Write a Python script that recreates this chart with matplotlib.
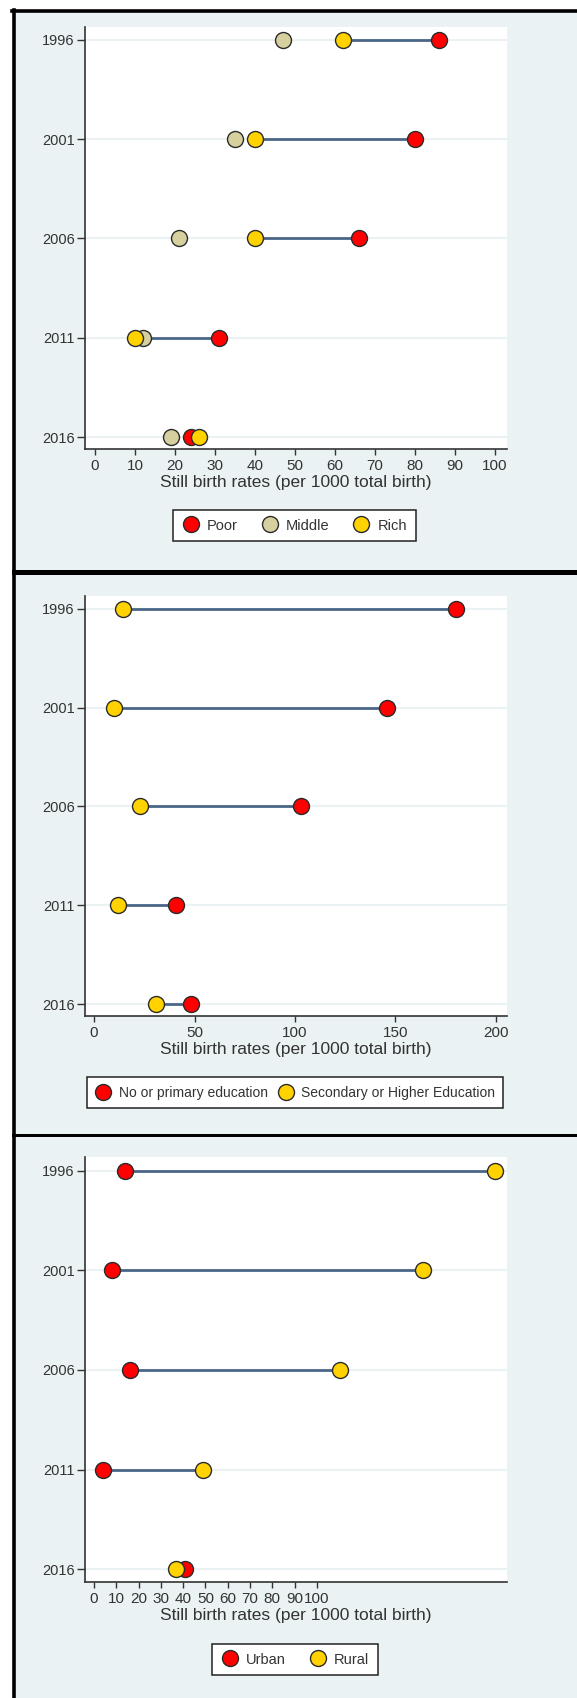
import matplotlib
matplotlib.use("Agg")
import matplotlib.pyplot as plt
from matplotlib.patches import Rectangle

plt.rcParams['font.family'] = ['Liberation Sans', 'DejaVu Sans']

years = ["1996", "2001", "2006", "2011", "2016"]

# panel 1: wealth
poor = [86, 80, 66, 31, 24]
middle = [47, 35, 21, 12, 19]
rich = [62, 40, 40, 10, 26]

# panel 2: education
no_primary = [180, 146, 103, 41, 48]
secondary = [14.5, 10, 23, 12, 31]

# panel 3: residence
urban = [14, 8, 16, 4, 41]
rural = [180, 147.5, 110.5, 49, 37]

RED = "#ff0000"
KHAKI = "#d6d09e"
GOLD = "#ffd200"
LINE = "#4a6688"
BG = "#eaf2f3"
W, H = 577, 1698

fig = plt.figure(figsize=(W / 100, H / 100), dpi=100)
fig.patch.set_facecolor("white")

# background drawn in pixel coordinates
bg = fig.add_axes([0, 0, 1, 1])
bg.set_xlim(0, W)
bg.set_ylim(H, 0)
bg.axis("off")
bg.add_patch(Rectangle((13, 11), W, H, facecolor=BG, edgecolor="none"))
bg.plot([13.5, 13.5], [10, H], color="black", lw=2.6)
bg.plot([12, W], [11, 11], color="black", lw=2.6)
bg.add_patch(Rectangle((12, 569.5), W, 5.5, facecolor="black", edgecolor="none"))
bg.add_patch(Rectangle((12, 1134), W, 2.5, facecolor="black", edgecolor="none"))


def make_ax(top, bottom):
    ax = fig.add_axes([85 / W, 1 - bottom / H, 422 / W, (bottom - top) / H])
    ax.set_facecolor("white")
    for s in ["top", "right"]:
        ax.spines[s].set_visible(False)
    for s in ["left", "bottom"]:
        ax.spines[s].set_color("#333333")
        ax.spines[s].set_linewidth(1.2)
    ax.set_yticks(range(len(years)))
    ax.set_yticklabels(years)
    ax.set_ylim(4.12, -0.13)
    ax.tick_params(axis="y", length=5.5, width=1, color="#333333", labelsize=10.5,
                   labelcolor="#333333", pad=2)
    ax.tick_params(axis="x", length=4.5, width=1, color="#333333", labelsize=11,
                   labelcolor="#333333", pad=3)
    for i in range(len(years)):
        ax.axhline(i, color=BG, lw=1.5, zorder=0)
    ax.set_xlabel("Still birth rates (per 1000 total birth)", fontsize=12.5,
                  color="#333333", labelpad=1)
    return ax


def dots(ax, vals, color, label):
    ax.plot(vals, range(len(vals)), "o", ls="none", ms=11.5, mfc=color,
            mec="#2b2b2b", mew=1, label=label, zorder=3)


def segments(ax, a, b):
    for i in range(len(a)):
        ax.plot([a[i], b[i]], [i, i], color=LINE, lw=2, zorder=2)


def add_legend(ax, cx, cy, fs=10.5, colsp=1.6):
    leg = ax.legend(loc="center", bbox_to_anchor=(cx / W, 1 - cy / H),
                    bbox_transform=fig.transFigure, ncol=3, frameon=True,
                    fancybox=False, framealpha=1, edgecolor="#222222",
                    fontsize=fs, handletextpad=0.5, columnspacing=colsp,
                    borderpad=0.6, handlelength=1.2, borderaxespad=0)
    leg.get_frame().set_linewidth(1.1)
    for t in leg.get_texts():
        t.set_color("#333333")


# panel 1
ax1 = make_ax(27, 449)
segments(ax1, rich, poor)
dots(ax1, poor, RED, "Poor")
dots(ax1, middle, KHAKI, "Middle")
dots(ax1, rich, GOLD, "Rich")
ax1.set_xlim(-2.5, 103)
ax1.set_xticks(range(0, 101, 10))
add_legend(ax1, 294.5, 525.5)

# panel 2
ax2 = make_ax(596, 1016)
segments(ax2, secondary, no_primary)
dots(ax2, no_primary, RED, "No or primary education")
dots(ax2, secondary, GOLD, "Secondary or Higher Education")
ax2.set_xlim(-4.5, 205.5)
ax2.set_xticks(range(0, 201, 50))
add_legend(ax2, 295, 1092.5, fs=10, colsp=0.7)

# panel 3
ax3 = make_ax(1157, 1582)
segments(ax3, urban, rural)
dots(ax3, urban, RED, "Urban")
dots(ax3, rural, GOLD, "Rural")
ax3.set_xlim(-4, 185.2)
ax3.set_xticks(range(0, 101, 10))
ax3.set_ylim(4.13, -0.14)
add_legend(ax3, 295, 1659.5)

fig.savefig("out.png", dpi=100, facecolor=fig.get_facecolor())
